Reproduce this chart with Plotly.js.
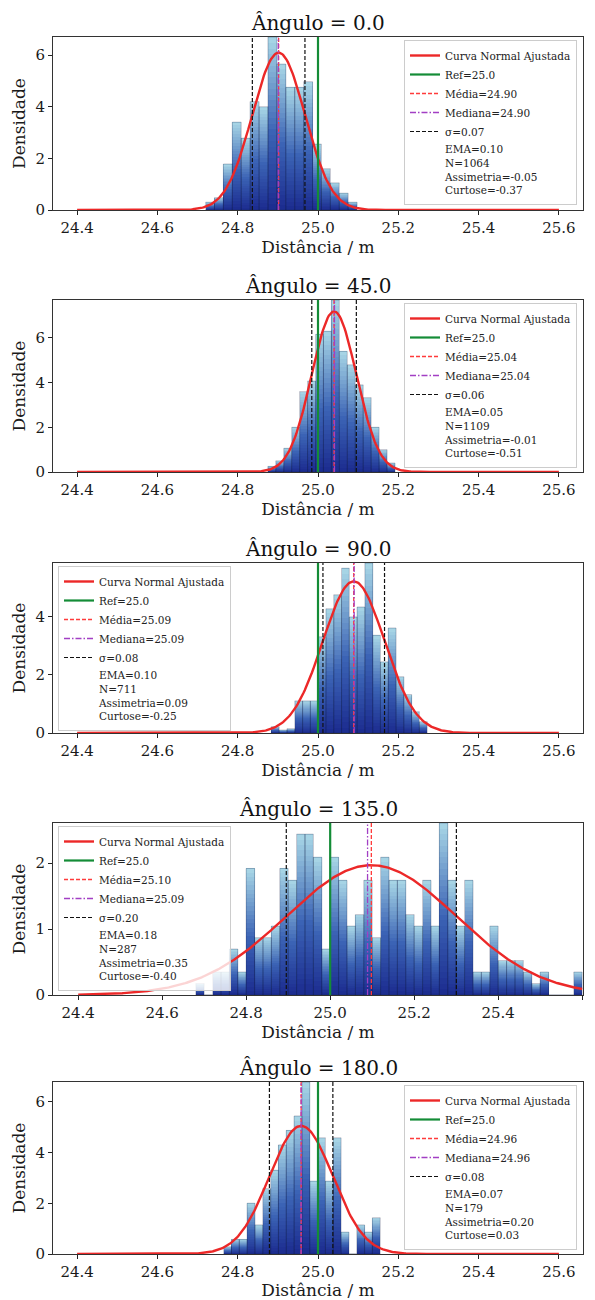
<!DOCTYPE html>
<html>
<head>
<meta charset="utf-8">
<script src="https://cdn.plot.ly/plotly-3.0.1.min.js"></script>
<style>html,body{margin:0;padding:0;background:#fff}#chart{width:595px;height:1300px}</style>
</head>
<body>
<div id="chart"></div>
<script>
// ---- Data ----
const angles = ['0.0', '45.0', '90.0', '135.0', '180.0'];
const refValue = 25.0;
const meanVals = [24.902, 25.040, 25.089, 25.098, 24.958];
const medianVals = [24.901, 25.041, 25.090, 25.089, 24.958];
const sigmaVals = [0.0655, 0.0555, 0.0767, 0.2025, 0.0790];
const emaLabels = ['0.10', '0.05', '0.10', '0.18', '0.07'];
const nCounts = [1064, 1109, 711, 287, 179];
const skewLabels = ['-0.05', '-0.01', '0.09', '0.35', '0.20'];
const kurtLabels = ['-0.37', '-0.51', '-0.25', '-0.40', '0.03'];

// histogram bins: first edge, bin width, densities
const binStart = [24.72, 24.875, 24.884, 24.68, 24.765];
const binWidth = [0.0222, 0.0198, 0.0194, 0.02, 0.0195];
const dens0 = [0.3, 0.48, 1.78, 3.4, 2.78, 4.2, 4.0, 6.7, 5.65, 4.75, 4.75, 4.97, 2.55, 1.6, 1.05, 0.65, 0.3];
const dens45 = [0.25, 0.5, 1.06, 2.0, 3.6, 4.07, 6.16, 6.3, 7.7, 5.4, 4.8, 3.9, 3.33, 2.0, 1.0, 0.4];
const dens90 = [0.22, 0.1, 0.15, 1.1, 1.1, 1.1, 3.3, 4.26, 4.74, 5.65, 3.98, 4.32, 5.83, 3.35, 2.44, 3.6, 1.93, 1.32, 0.73, 0.39];
const dens135 = [0.174, 0, 0.348, 0.348, 0.697, 0.348, 1.92, 0.871, 0.871, 1.045, 1.92, 1.74, 2.44, 2.44, 2.09, 0.697,
                 2.09, 1.74, 1.045, 1.22, 1.74, 0.871, 2.09, 1.74, 1.74, 1.22, 1.045, 1.74, 1.045, 2.61, 1.74, 1.045,
                 1.74, 0.348, 0.348, 1.045, 0.523, 0.523, 0.523, 0.348, 0.174, 0.348, 0, 0, 0, 0.348];
const dens180 = [0.287, 0.573, 0.573, 2.0, 1.146, 2.58, 3.3, 4.3, 4.87, 5.44, 6.78, 2.87, 4.58, 2.87, 4.58, 0.86, 0, 1.146, 0.86, 1.43];
const densities = [dens0, dens45, dens90, dens135, dens180];
const curveRange = [24.4, 25.6];
const xTickVals = [24.4, 24.6, 24.8, 25.0, 25.2, 25.4, 25.6];

// ---- Layout geometry / style ----
const W = 595, H = 1300;
const FONT = 'DejaVu Serif';
const boxL = 53, boxR = 583;
const boxTop = [37, 300, 563, 823, 1082];
const boxBot = [210, 472, 733, 995, 1254];
const xMaxRange = [25.66, 25.66, 25.66, 25.602, 25.66];
const legendRight = [true, true, false, false, true];

// vertical gradient of each bar (bottom -> top), drawn as stacked slices
const gradStops = [[0, [27, 43, 143]], [0.45, [59, 99, 181]], [1, [169, 216, 230]]];
const SLICES = 30;
function gradColor(t) {
  for (let j = 1; j < gradStops.length; j++) {
    if (t <= gradStops[j][0]) {
      const a = gradStops[j - 1], b = gradStops[j];
      const f = (t - a[0]) / (b[0] - a[0]);
      const c = a[1].map((v, q) => Math.round(v + (b[1][q] - v) * f));
      return 'rgb(' + c.join(',') + ')';
    }
  }
  return 'rgb(' + gradStops[gradStops.length - 1][1].join(',') + ')';
}

const traces = [];
const layout = {
  width: W, height: H,
  margin: {l: 0, r: 0, t: 0, b: 0},
  paper_bgcolor: '#fff', plot_bgcolor: '#fff',
  font: {family: FONT, color: '#222'},
  barmode: 'overlay', bargap: 0,
  annotations: [],
  showlegend: true
};

for (let i = 0; i < 5; i++) {
  const sfx = i === 0 ? '' : String(i + 1);
  const xa = 'x' + sfx, ya = 'y' + sfx;
  const lg = 'legend' + sfx;
  const dens = densities[i];
  const yTop = Math.max.apply(null, dens);
  const centers = dens.map((h, k) => binStart[i] + (k + 0.5) * binWidth[i]);

  // histogram bars: gradient slices
  for (let s = 0; s < SLICES; s++) {
    traces.push({
      type: 'bar', x: centers, y: dens.map(h => h / SLICES), base: dens.map(h => h * s / SLICES),
      width: binWidth[i], marker: {color: gradColor((s + 0.5) / SLICES), line: {width: 0}},
      xaxis: xa, yaxis: ya, showlegend: false, hoverinfo: 'skip', legend: lg
    });
  }
  // bar outlines
  traces.push({
    type: 'bar', x: centers, y: dens, width: binWidth[i],
    marker: {color: 'rgba(0,0,0,0)', line: {color: 'rgba(20,30,70,0.45)', width: 0.6}},
    xaxis: xa, yaxis: ya, showlegend: false, hoverinfo: 'skip', legend: lg
  });

  // fitted normal curve
  const cx = [], cy = [];
  const nPts = 400;
  for (let j = 0; j <= nPts; j++) {
    const x = curveRange[0] + (curveRange[1] - curveRange[0]) * j / nPts;
    const z = (x - meanVals[i]) / sigmaVals[i];
    cx.push(x);
    cy.push(Math.exp(-0.5 * z * z) / (sigmaVals[i] * Math.sqrt(2 * Math.PI)));
  }
  traces.push({type: 'scatter', mode: 'lines', x: cx, y: cy, name: 'Curva Normal Ajustada',
    line: {color: '#ec2828', width: 2.4}, xaxis: xa, yaxis: ya, legend: lg});

  traces.push({type: 'scatter', mode: 'lines', x: [refValue, refValue], y: [0, yTop],
    name: 'Ref=' + refValue.toFixed(1), line: {color: '#148c37', width: 2.2}, xaxis: xa, yaxis: ya, legend: lg});

  traces.push({type: 'scatter', mode: 'lines', x: [meanVals[i], meanVals[i]], y: [0, yTop],
    name: 'Média=' + meanVals[i].toFixed(2), line: {color: '#ff3b3b', width: 1.3, dash: '4px,2px'},
    xaxis: xa, yaxis: ya, legend: lg});

  traces.push({type: 'scatter', mode: 'lines', x: [medianVals[i], medianVals[i]], y: [0, yTop],
    name: 'Mediana=' + medianVals[i].toFixed(2), line: {color: '#a23fc4', width: 1.3, dash: '6px,2px,1.5px,2px'},
    xaxis: xa, yaxis: ya, legend: lg});

  const sLo = meanVals[i] - sigmaVals[i], sHi = meanVals[i] + sigmaVals[i];
  traces.push({type: 'scatter', mode: 'lines', x: [sLo, sLo], y: [0, yTop],
    name: 'σ=' + sigmaVals[i].toFixed(2), legendgroup: 'sig' + i,
    line: {color: '#111', width: 1.2, dash: '4px,2px'}, xaxis: xa, yaxis: ya, legend: lg});
  traces.push({type: 'scatter', mode: 'lines', x: [sHi, sHi], y: [0, yTop],
    name: 'σ=' + sigmaVals[i].toFixed(2), legendgroup: 'sig' + i, showlegend: false,
    line: {color: '#111', width: 1.2, dash: '4px,2px'}, xaxis: xa, yaxis: ya, legend: lg});

  traces.push({type: 'scatter', mode: 'lines', x: [refValue], y: [0],
    name: 'EMA=' + emaLabels[i] + '<br>N=' + nCounts[i] + '<br>Assimetria=' + skewLabels[i] + '<br>Curtose=' + kurtLabels[i],
    line: {color: 'rgba(0,0,0,0)', width: 0}, hoverinfo: 'skip', xaxis: xa, yaxis: ya, legend: lg});

  const axCommon = {
    showline: true, mirror: true, linecolor: '#333', linewidth: 1,
    ticks: 'outside', ticklen: 4, tickwidth: 1, tickcolor: '#222',
    showgrid: false, zeroline: false,
    tickfont: {family: FONT, size: 15, color: '#1a1a1a'}
  };
  layout['xaxis' + sfx] = Object.assign({}, axCommon, {
    domain: [boxL / W, boxR / W], anchor: ya,
    range: [24.34, xMaxRange[i]], tickvals: xTickVals, tickformat: '.1f',
    title: {text: 'Distância / m', font: {family: FONT, size: 17, color: '#1a1a1a'}, standoff: 3}
  });
  layout['yaxis' + sfx] = Object.assign({}, axCommon, {
    domain: [1 - boxBot[i] / H, 1 - boxTop[i] / H], anchor: xa,
    range: [0, yTop], dtick: yTop < 4 ? 1 : 2,
    title: {text: 'Densidade', font: {family: FONT, size: 17, color: '#1a1a1a'}, standoff: 5}
  });

  layout.annotations.push({
    text: 'Ângulo = ' + angles[i], xref: 'paper', yref: 'paper',
    x: (boxL + boxR) / 2 / W, y: 1 - (boxTop[i] - 14) / H, xanchor: 'center', yanchor: 'middle',
    showarrow: false, font: {family: FONT, size: 20, color: '#111'}
  });

  const right = legendRight[i];
  layout[lg] = {
    x: right ? 577 / W : 58 / W, xanchor: right ? 'right' : 'left',
    y: 1 - (boxTop[i] + 3) / H, yanchor: 'top',
    bgcolor: 'rgba(255,255,255,0.8)', bordercolor: '#cccccc', borderwidth: 1,
    font: {family: FONT, size: 10.5, color: '#222'}, traceorder: 'normal'
  };
}

Plotly.newPlot('chart', traces, layout, {displayModeBar: false, staticPlot: true});
</script>
</body>
</html>
